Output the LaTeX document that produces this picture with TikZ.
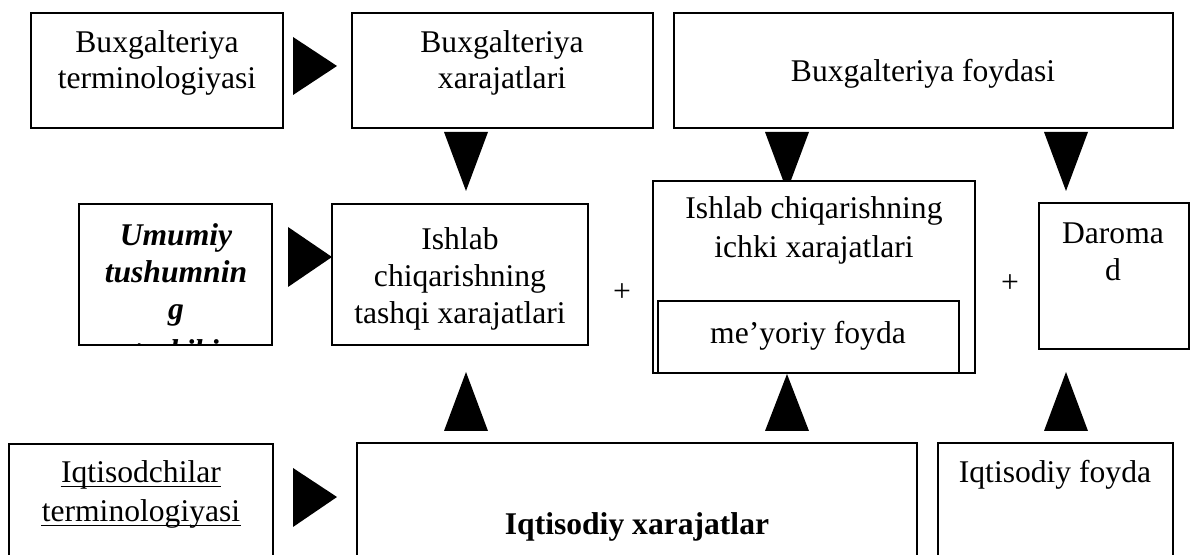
\documentclass[tikz,border=0pt]{standalone}
\usepackage{fontspec}
\setmainfont{Liberation Serif}
\usetikzlibrary{fit}

\tikzset{
  box/.style={draw, fill=white, line width=0.9pt, inner sep=0pt},
  lbl/.style={inner sep=0pt, anchor=base, font=\fontsize{15.8}{19}\selectfont},
  blk/.style={fill=black},
}

\begin{document}
\begin{tikzpicture}[x=0.5pt,y=-0.5pt]
\useasboundingbox (0,0) rectangle (1190,555);
\begin{scope}
\clip (0,0) rectangle (1190,555);
% top row
\node[box, fit={(31,13) (283,128)}] (buxterm) {};
\node[lbl] (buxterm1) at (157,53) {Buxgalteriya};
\node[lbl] (buxterm2) at (157,89) {terminologiyasi};
\node[box, fit={(352,13) (653,128)}] (buxxar) {};
\node[lbl] (buxxar1) at (502,53) {Buxgalteriya};
\node[lbl] (buxxar2) at (502,89) {xarajatlari};
\node[box, fit={(674,13) (1173,128)}] (buxfoyda) {};
\node[lbl] (buxfoyda1) at (923,82) {Buxgalteriya foydasi};
\fill[blk] (293,37) -- (337,66) -- (293,95) -- cycle;
\fill[blk] (444,132) -- (488,132) -- (466,191) -- cycle;
\fill[blk] (765,132) -- (809,132) -- (790.7,181) -- (783.3,181) -- cycle; % tip hidden behind box
\fill[blk] (1044,132) -- (1088,132) -- (1066,191) -- cycle;

% middle row
\node[box, fit={(79,204) (272,345)}] (umumiy) {};
\begin{scope}
\clip (79,204) rectangle (272,345);
\node[lbl, font=\fontsize{15.8}{19}\selectfont\bfseries\itshape] (umumiy1) at (176,246) {Umumiy};
\node[lbl, font=\fontsize{15.8}{19}\selectfont\bfseries\itshape] (umumiy2) at (176,283) {tushumnin};
\node[lbl, font=\fontsize{15.8}{19}\selectfont\bfseries\itshape] (umumiy3) at (176,320) {g};
\node[lbl, font=\fontsize{15.8}{19}\selectfont\bfseries\itshape] (umumiy4) at (176,362) {tarkibi};
\end{scope}
\fill[blk] (288,227) -- (332,257) -- (288,287) -- cycle;
\node[box, fit={(332,204) (588,345)}] (tashqi) {};
\node[lbl] (tashqi1) at (460,250) {Ishlab};
\node[lbl] (tashqi2) at (460,287) {chiqarishning};
\node[lbl] (tashqi3) at (460,324) {tashqi xarajatlari};
\node[lbl] (plus1) at (622,302) {+};
\node[box, fit={(653,181) (975,373)}] (ichki) {};
\node[lbl] (ichki1) at (814,219) {Ishlab chiqarishning};
\node[lbl] (ichki2) at (814,258) {ichki xarajatlari};
\draw[line width=0.9pt] (658,373) -- (658,301) -- (959,301) -- (959,373);
\node[lbl] (meyoriy) at (808,344) {me’yoriy foyda};
\node[lbl] (plus2) at (1010,293) {+};
\node[box, fit={(1039,203) (1189,349)}] (daromad) {};
\node[lbl] (daromad1) at (1113,244) {Daroma};
\node[lbl] (daromad2) at (1113,281) {d};
\fill[blk] (444,431) -- (488,431) -- (466,372) -- cycle;
\fill[blk] (765,431) -- (809,431) -- (787,374) -- cycle;
\fill[blk] (1044,431) -- (1088,431) -- (1066,372) -- cycle;

% bottom row
\node[box, fit={(9,444) (273,600)}] (iqterm) {};
\node[lbl] (iqterm1) at (141,483) {Iqtisodchilar};
\node[lbl] (iqterm2) at (141,522) {terminologiyasi};
\draw[line width=0.6pt] ([yshift=-1.6pt]iqterm1.base west) -- ([yshift=-1.6pt]iqterm1.base east);
\draw[line width=0.6pt] ([yshift=-1.6pt]iqterm2.base west) -- ([yshift=-1.6pt]iqterm2.base east);
\fill[blk] (293,468) -- (337,497) -- (293,527) -- cycle;
\node[box, fit={(357,443) (917,600)}] (iqxar) {};
\node[lbl, font=\fontsize{15.8}{19}\selectfont\bfseries] (iqxar1) at (637,535) {Iqtisodiy xarajatlar};
\node[box, fit={(938,443) (1173,600)}] (iqfoyda) {};
\node[lbl] (iqfoyda1) at (1055,483) {Iqtisodiy foyda};
\end{scope}
\end{tikzpicture}
\end{document}
